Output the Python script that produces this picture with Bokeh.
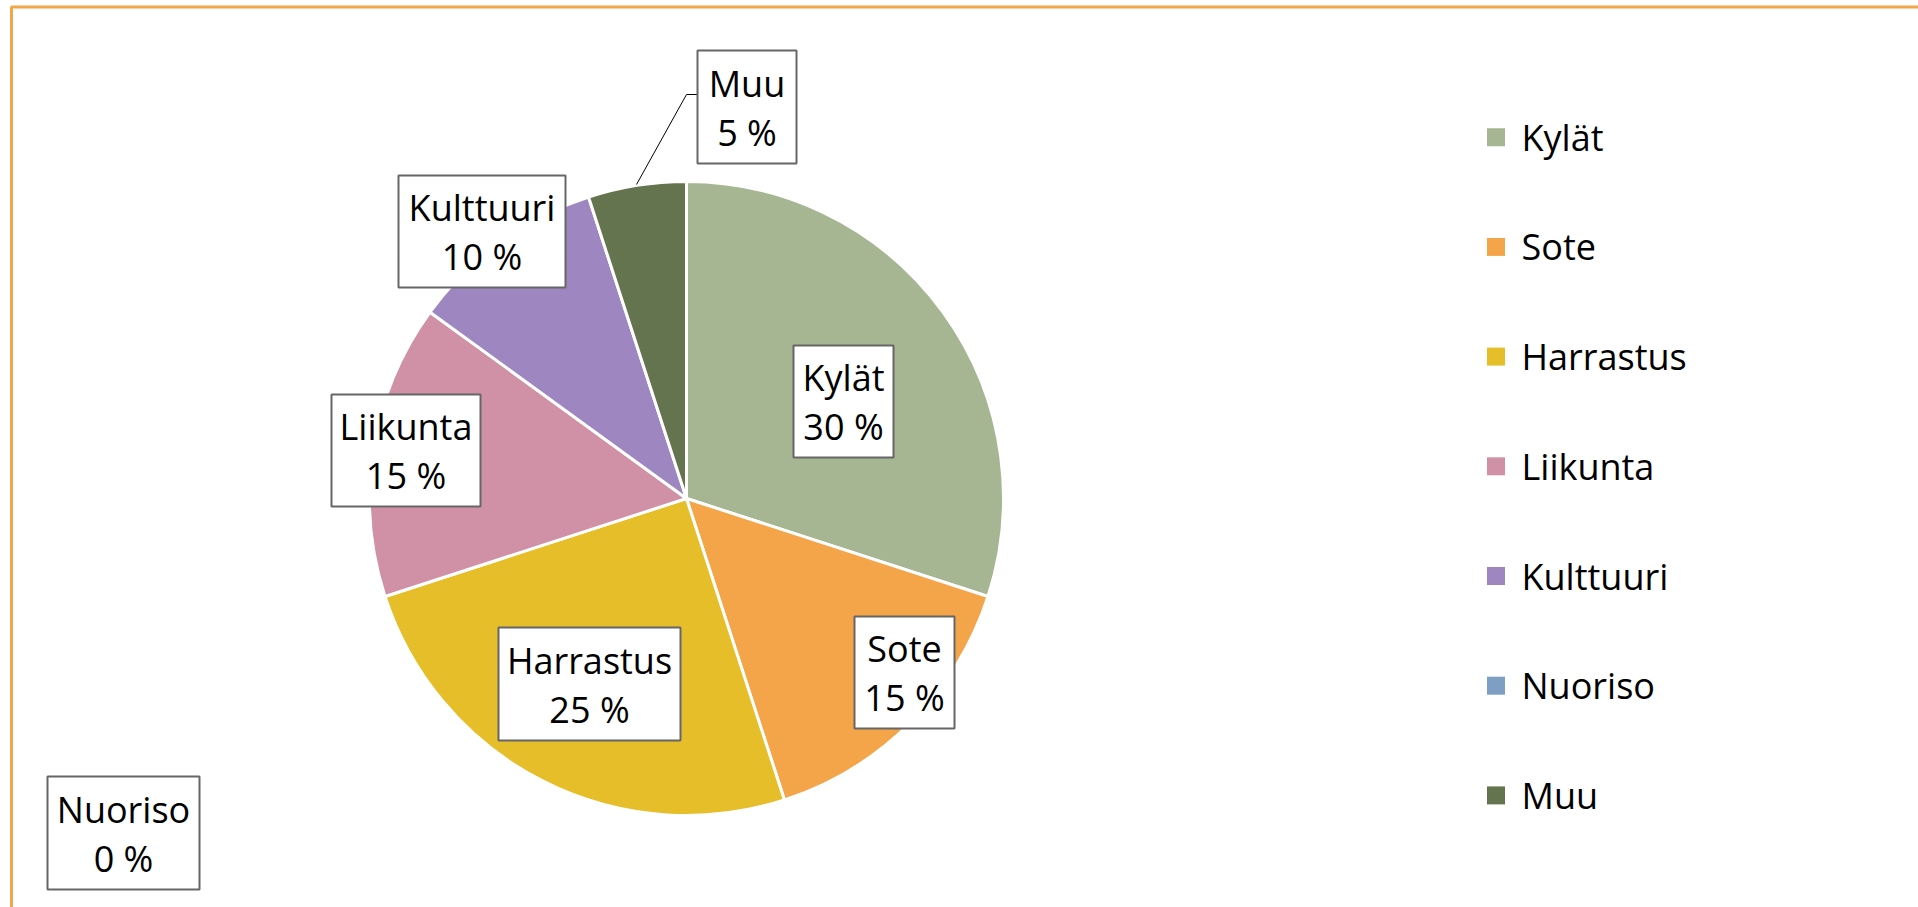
import numpy as np
from bokeh.plotting import figure
from bokeh.models import Range1d, ColumnDataSource
from bokeh.core.properties import value
from bokeh.embed import file_html
from bokeh.resources import INLINE

# ---- data ----
categories = ["Kylät", "Sote", "Harrastus", "Liikunta", "Kulttuuri", "Nuoriso", "Muu"]
shares = [30, 15, 25, 15, 10, 0, 5]
colors = ["#A6B592", "#F4A549", "#E6BE2A", "#D090A6", "#9E86C1", "#7E9FC4", "#64744F"]

# ---- layout (page pixels) ----
W, H = 1918, 907
FONT = "Open Sans"
FS = "36px"

def px(X):
    return X

def py(Y):
    return H - Y

p = figure(width=W, height=H, output_backend="svg", toolbar_location=None,
           x_range=Range1d(0, W), y_range=Range1d(0, H), min_border=0)
p.axis.visible = False
p.grid.visible = False
p.outline_line_color = None
p.background_fill_color = "white"
p.border_fill_color = "white"

# chart area border (top + left visible)
p.line(x=[px(11), px(11), W], y=[0, py(6.5), py(6.5)], line_color="#F4A549", line_width=3)

# pie
cx, cy, R = px(686), py(498), 317
vals = np.array(shares, dtype=float)
frac = vals / vals.sum()
cum = np.concatenate([[0], np.cumsum(frac)])
start = np.pi / 2 - 2 * np.pi * cum[:-1]
end = np.pi / 2 - 2 * np.pi * cum[1:]
mask = vals > 0
src = ColumnDataSource(dict(
    start=start[mask], end=end[mask],
    color=[c for c, m in zip(colors, mask) if m]))
p.wedge(x=cx, y=cy, radius=R, start_angle="start", end_angle="end",
        direction="clock", fill_color="color", line_color="white",
        line_width=3, source=src)

# leader line for Muu label
p.line(x=[px(697), px(686), px(636)], y=[py(94), py(94), py(184)],
       line_color="black", line_width=1)

# data label boxes: centers and sizes (page pixels)
box_cx = [843, 904, 589, 405.5, 481.5, 123, 746.5]
box_cy = [401, 672, 683.5, 450, 231, 832.5, 106.5]
box_w = [100, 100, 182, 149, 167, 152, 99]
box_h = [112, 112, 113, 112, 112, 113, 113]

bx = [px(v) for v in box_cx]
by = [py(v) for v in box_cy]
p.rect(x=bx, y=by, width=box_w, height=box_h, fill_color="white",
       line_color="#666666", line_width=2)

line1 = categories
line2 = [f"{v} %" for v in shares]
p.text(x=bx, y=[v + 24 for v in by], text=line1, text_font=value(FONT),
       text_font_size=FS, text_align="center", text_baseline="middle",
       text_color="black")
p.text(x=bx, y=[v - 25 for v in by], text=line2, text_font=value(FONT),
       text_font_size=FS, text_align="center", text_baseline="middle",
       text_color="black")

# legend
leg_y = [py(136.7 + 109.7 * i) for i in range(len(categories))]
p.scatter(x=[px(1495.5)] * len(categories), y=leg_y, size=18, marker="square",
          fill_color=colors, line_color=None)
p.text(x=[px(1521)] * len(categories), y=leg_y, text=categories,
       text_font=value(FONT), text_font_size=FS, text_align="left",
       text_baseline="middle", text_color="black")

open("out.html", "w").write(file_html(p, INLINE))
